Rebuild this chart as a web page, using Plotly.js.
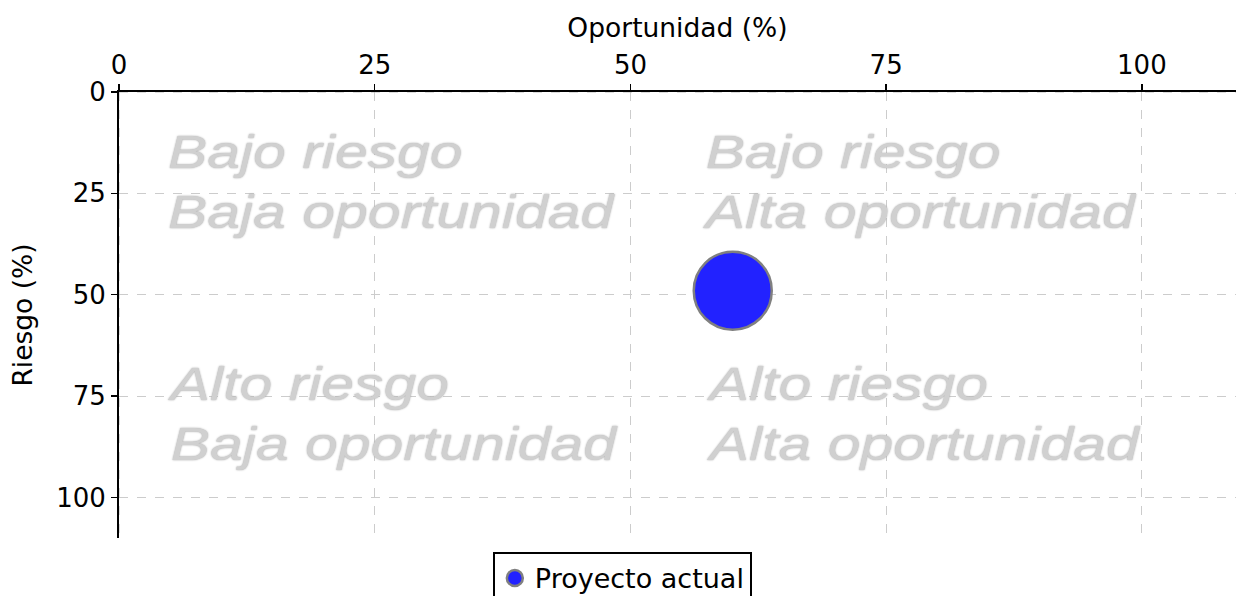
<!DOCTYPE html>
<html>
<head>
<meta charset="utf-8">
<script src="https://cdn.plot.ly/plotly-3.0.1.min.js"></script>
<style>html,body{margin:0;padding:0;background:#fff;}#chart{width:1236px;height:596px;}</style>
</head>
<body>
<div id="chart"></div>
<script>
const seriesName = "Proyecto actual";
const opportunity = [60];
const risk = [49];
const quadrantLabels = ["Bajo riesgo<br>Baja oportunidad", "Bajo riesgo<br>Alta oportunidad", "Alto riesgo<br>Baja oportunidad", "Alto riesgo<br>Alta oportunidad"];
const quadrantX = [4.6, 56.8, 4.5, 57.2];
const quadrantY = [22.3, 22.3, 79.3, 79.3];
const xTicks = [0, 25, 50, 75, 100];
const yTicks = [0, 25, 50, 75, 100];

const FONT = 'DejaVu Sans, sans-serif';

const trace = {
  type: 'scatter', mode: 'markers', name: seriesName,
  x: opportunity, y: risk,
  marker: {size: 78, color: '#2222ff', line: {color: '#808080', width: 2.5}},
  showlegend: false, cliponaxis: false
};
// legend swatch for the same series (smaller symbol, like the reference legend)
const legendTrace = {
  type: 'scatter', mode: 'markers', name: seriesName,
  x: [null], y: [null],
  marker: {size: 21, color: '#2222ff', line: {color: '#808080', width: 2.5}},
  showlegend: true
};

const annotations = quadrantLabels.map((t, i) => ({
  x: quadrantX[i], y: quadrantY[i], xref: 'x', yref: 'y', text: t,
  xanchor: 'left', yanchor: 'middle', align: 'left', showarrow: false,
  font: {family: 'Liberation Sans, Arial, sans-serif', size: 46, color: '#d0d0d0', style: 'italic', shadow: '0px 0px 2px #a0a0a0'}
}));

const axisCommon = {
  showgrid: true, gridcolor: '#cccccc', griddash: 'dash', gridwidth: 1,
  zeroline: false, showline: true, linecolor: '#000000', linewidth: 2,
  ticks: 'outside', ticklen: 6, tickwidth: 1.5, tickcolor: '#000',
  tickfont: {family: FONT, size: 26, color: '#000'},
  tickmode: 'array'
};

const xMax = 109.2, yMax = 110;

const layout = {
  width: 1236, height: 596,
  margin: {l: 119, r: 0, t: 92, b: 58},
  paper_bgcolor: '#fff', plot_bgcolor: '#fff',
  xaxis: Object.assign({}, axisCommon, {
    side: 'top', range: [0, xMax], tickvals: xTicks, ticktext: xTicks.map(String),
    title: {text: 'Oportunidad (%)', font: {family: FONT, size: 26.5, color: '#000'}, standoff: 4}
  }),
  yaxis: Object.assign({}, axisCommon, {
    range: [yMax, 0], tickvals: yTicks, ticktext: yTicks.map(String),
    title: {text: 'Riesgo (%)', font: {family: FONT, size: 26.5, color: '#000'}, standoff: 16}
  }),
  shapes: [
    {type: 'line', xref: 'x', yref: 'y', x0: 0, x1: xMax, y0: yTicks[0], y1: yTicks[0], layer: 'above', line: {color: '#bbbbbb', width: 1, dash: 'dash'}},
    {type: 'line', xref: 'x', yref: 'y', x0: xTicks[0], x1: xTicks[0], y0: 0, y1: yMax, layer: 'above', line: {color: '#bbbbbb', width: 1, dash: 'dash'}}
  ],
  showlegend: true,
  legend: {
    orientation: 'h', xref: 'container', yref: 'container', x: 0.5035, xanchor: 'center', y: 0.074, yanchor: 'top',
    bordercolor: '#000', borderwidth: 2, bgcolor: '#fff',
    font: {family: FONT, size: 27, color: '#000'}
  },
  annotations: annotations
};

Plotly.newPlot('chart', [trace, legendTrace], layout, {displayModeBar: false, staticPlot: true}).then(function (gd) {
  // the reference quadrant labels are horizontally widened; stretch each label about its left edge
  const s = 1.28;
  gd.querySelectorAll('.annotation-text').forEach(function (t) {
    const bb = t.getBBox();
    const x0 = bb.x;
    const prev = t.getAttribute('transform') || '';
    t.setAttribute('transform', prev + ' translate(' + (x0 * (1 - s)) + ',0) scale(' + s + ',1)');
  });
});
</script>
</body>
</html>
